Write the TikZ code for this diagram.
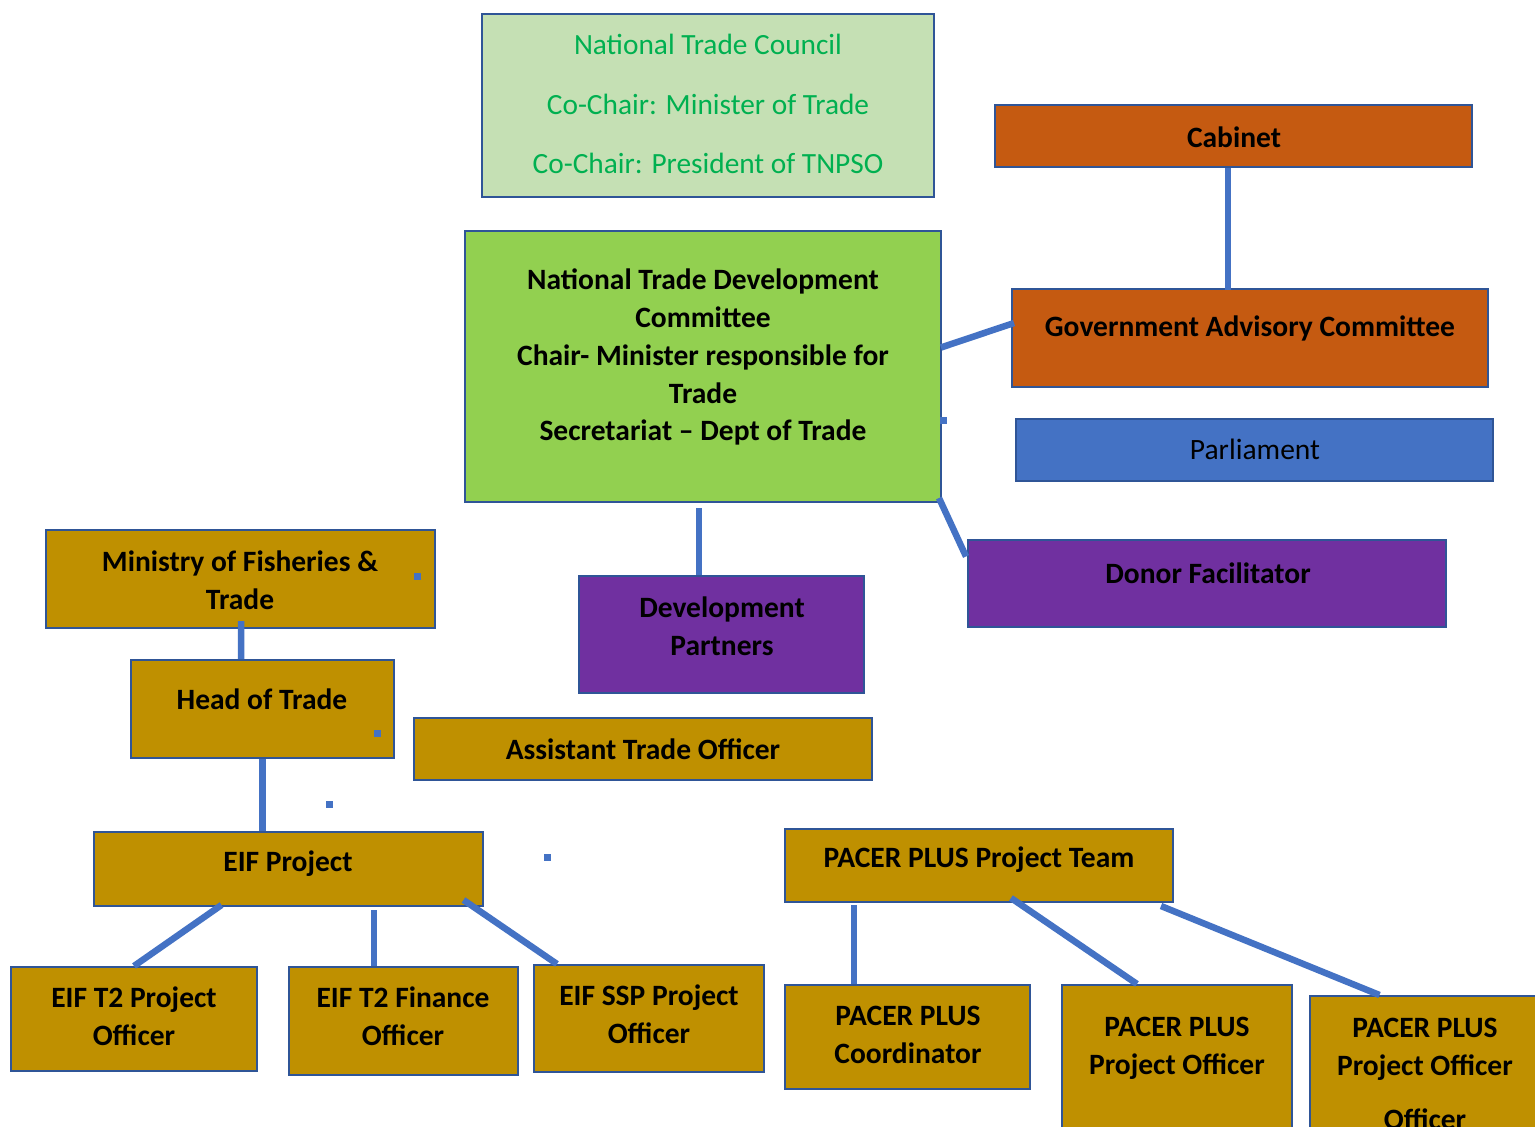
\documentclass[tikz,border=0pt]{standalone}
\usepackage{fontspec}
\setmainfont{Carlito}
\usetikzlibrary{fit,calc}
\definecolor{bordc}{HTML}{2F5597}
\definecolor{conc}{HTML}{4472C4}
\definecolor{goldc}{HTML}{BF9000}
\definecolor{orangec}{HTML}{C55A11}
\definecolor{lgreenc}{HTML}{C5E0B4}
\definecolor{greenc}{HTML}{92D050}
\definecolor{purplec}{HTML}{7030A0}
\definecolor{ntcc}{HTML}{00B050}
\tikzset{
  box/.style={draw=bordc, line width=0.04cm, inner sep=0pt},
  lbl/.style={align=center, inner sep=0pt, font=\fontsize{16.8}{21.6}\selectfont\bfseries},
  lblr/.style={align=center, inner sep=0pt, font=\fontsize{16.8}{21.6}\selectfont},
  con/.style={draw=conc, line width=0.13cm},
  dot/.style={fill=conc, minimum size=0.14cm, inner sep=0pt},
}
\begin{document}
\begin{tikzpicture}[x=0.02cm, y=-0.02cm]
\useasboundingbox (0,0) rectangle (1535,1126);
\clip (0,0) rectangle (1535,1126);
\fill[white] (0,0) rectangle (1535,1126);
% boxes
\node[box, fill=lgreenc, fit={(482,14) (934,197)}] (ntc) {};
\node[box, fill=orangec, fit={(995,105) (1472,167)}] (cab) {};
\node[box, fill=greenc, fit={(465,231) (941,502)}] (ntdc) {};
\node[box, fill=orangec, fit={(1012,289) (1488,387)}] (gac) {};
\node[box, fill=conc, fit={(1016,419) (1493,481)}] (parl) {};
\node[box, fill=purplec, fit={(968,540) (1446,627)}] (donor) {};
\node[box, fill=purplec, fit={(579,576) (864,693)}] (dev) {};
\node[box, fill=goldc, fit={(46,530) (435,628)}] (mft) {};
\node[box, fill=goldc, fit={(131,660) (394,758)}] (hot) {};
\node[box, fill=goldc, fit={(414,718) (872,780)}] (ato) {};
\node[box, fill=goldc, fit={(94,832) (483,906)}] (eif) {};
\node[box, fill=goldc, fit={(11,967) (257,1071)}] (t2po) {};
\node[box, fill=goldc, fit={(289,967) (518,1075)}] (t2fo) {};
\node[box, fill=goldc, fit={(534,965) (764,1072)}] (ssp) {};
\node[box, fill=goldc, fit={(785,829) (1173,902)}] (ppt) {};
\node[box, fill=goldc, fit={(785,985) (1030,1089)}] (ppc) {};
\node[box, fill=goldc, fit={(1062,985) (1292,1140)}] (ppo) {};
\node[box, fill=goldc, fit={(1310,996) (1545,1140)}] (ppo2) {};
% texts
\node[lblr, text=ntcc, font=\fontsize{16.7}{34}\selectfont] (ntcT) at (708,104) {National Trade Council\\Co-Chair: Minister of Trade\\Co-Chair: President of TNPSO};
\node[lbl] (cabT) at (1234,137) {Cabinet};
\node[lbl] (ntdcT) at (703,357) {National Trade Development\\Committee\\Chair- Minister responsible for\\Trade\\Secretariat -- Dept of Trade};
\node[lbl] (gacT) at (1250,328) {Government Advisory Committee};
\node[lblr] (parlT) at (1255,449) {Parliament};
\node[lbl] (donorT) at (1208,573) {Donor Facilitator};
\node[lbl] (devT) at (722,626) {Development\\Partners};
\node[lbl] (mftT) at (240,580) {Ministry of Fisheries \&\\Trade};
\node[lbl] (hotT) at (262,699) {Head of Trade};
\node[lbl] (atoT) at (643,749) {Assistant Trade Officer};
\node[lbl] (eifT) at (288,864) {EIF Project};
\node[lbl] (t2poT) at (134,1016) {EIF T2 Project\\Officer};
\node[lbl] (t2foT) at (403,1016) {EIF T2 Finance\\Officer};
\node[lbl] (sspT) at (649,1014) {EIF SSP Project\\Officer};
\node[lbl] (pptT) at (979,860) {PACER PLUS Project Team};
\node[lbl] (ppcT) at (908,1035) {PACER PLUS\\Coordinator};
\node[lbl] (ppoT) at (1177,1048) {PACER PLUS\\Project Officer};
\node[lbl] (ppo2T) at (1425,1074) {PACER PLUS\\Project Officer\\[9.6pt]Officer};
% connectors
\draw[con] ($(cab.south)+(-5.5,0)$) -- ($(gac.north)+(-22,2)$);
\draw[con] ($(ntdc.east)+(-1,-19)$) -- ($(gac.west)+(3,-15)$);
\draw[con] ($(ntdc.south east)+(-3,-5)$) -- ($(donor.west)+(-1,-27)$);
\draw[con] ($(ntdc.south)+(-4,5)$) -- ($(dev.north)+(-22.5,0)$);
\draw[con] ($(mft.south)+(0.5,-8)$) -- ($(hot.north)+(-21.5,0)$);
\draw[con] ($(hot.south)+(0,0)$) -- ($(eif.north)+(-26,0)$);
\draw[con] ($(eif.south)+(-67,-2)$) -- ($(t2po.north)+(0,0)$);
\draw[con] ($(eif.south)+(85.5,3)$) -- ($(t2fo.north)+(-29.5,0)$);
\draw[con] ($(eif.south)+(175,-7)$) -- ($(ssp.north)+(-92,0)$);
\draw[con] ($(ppt.south)+(-125,2)$) -- ($(ppc.north)+(-53.5,0)$);
\draw[con] ($(ppt.south)+(32,-5)$) -- ($(ppo.north)+(-40,0)$);
\draw[con] ($(ppt.south)+(182,3)$) -- ($(ppo2.north)+(-48,0)$);
% small squares
\node[dot] (d1) at (417,576) {};
\node[dot] (d2) at (377,733) {};
\node[dot] (d3) at (329,804) {};
\node[dot] (d4) at (547,857) {};
\node[dot] (d5) at (943,420) {};
\end{tikzpicture}
\end{document}
